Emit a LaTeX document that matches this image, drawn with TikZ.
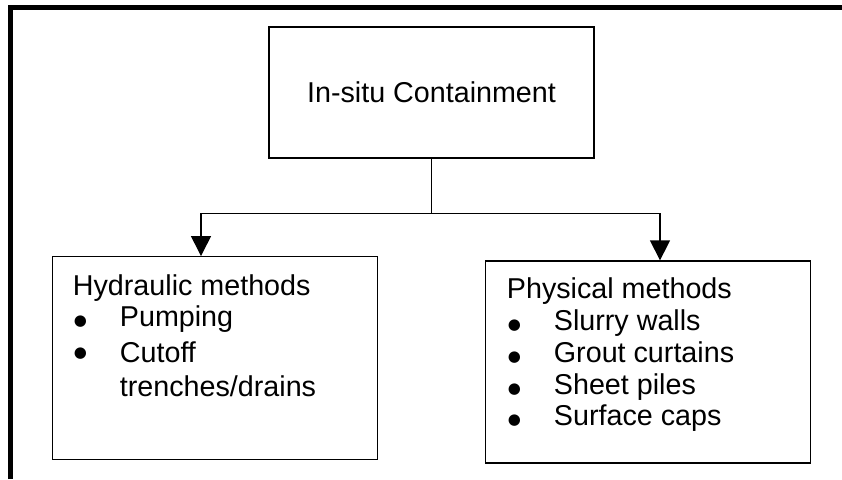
\documentclass[tikz,border=0pt]{standalone}
\usepackage{fontspec}
\setmainfont{Liberation Sans}
\newfontfamily\symfont{DejaVu Sans}
\usepackage{tikz}
\usetikzlibrary{arrows.meta}
\newcommand{\blt}[1][1pt]{\makebox[47pt][l]{\hspace{1pt}\raisebox{#1}{\fontsize{15}{15}\symfont ●}}}

\begin{document}
\begin{tikzpicture}[x=1pt,y=-1pt,
  font=\fontsize{28.7}{31.9}\selectfont,
  b/.style={rectangle,draw=black,line width=1.3pt,minimum width=325pt,inner sep=0pt},
  l/.style={anchor=base west,inner sep=0pt},
  a/.style={-{Triangle[width=20pt,length=20pt]},black,line width=1.3pt}]

  \useasboundingbox (0,0) rectangle (842,479);
  \draw[line width=5pt] (10.5,479) -- (10.5,7.5) -- (842,7.5);

  \node[b,minimum height=131pt] (top) at (431.5,92.5) {In-situ Containment};
  \node[b,minimum height=202.6pt] (hydro) at (215.3,358) {};
  \node[b,minimum height=202pt] (phys) at (648.3,362) {};

  \node[l] (hydrotxt) at (72.7,295) {\begin{tabular}[t]{@{}l@{}l@{}}
    \multicolumn{2}{@{}l@{}}{Hydraulic methods}\\[-0.5pt]
    \blt & Pumping\\[4.5pt]
    \blt[5.5pt] & Cutoff\\[1.5pt]
    & trenches/drains
  \end{tabular}};
  \node[l] (phystxt) at (506.7,298.3) {\begin{tabular}[t]{@{}l@{}l@{}}
    \multicolumn{2}{@{}l@{}}{Physical methods}\\
    \blt & Slurry walls\\
    \blt & Grout curtains\\
    \blt & Sheet piles\\
    \blt & Surface caps
  \end{tabular}};

  \draw[line width=1.3pt] (top.south) -- ++(0,55) coordinate (j);
  \draw[a] (j) -| ([xshift=-14.3pt]hydro.north);
  \draw[a] (j) -| ([xshift=11.7pt]phys.north);
\end{tikzpicture}
\end{document}
